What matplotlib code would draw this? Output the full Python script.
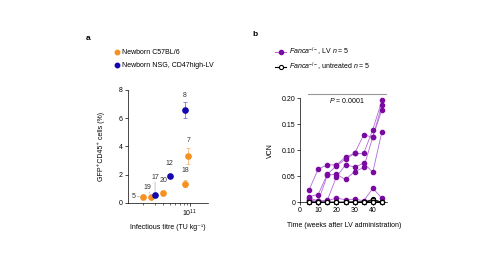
import matplotlib
matplotlib.use("Agg")
import matplotlib.pyplot as plt
from matplotlib.lines import Line2D

plt.rcParams['font.family'] = ['Liberation Sans', 'DejaVu Sans']
plt.rcParams['mathtext.fontset'] = 'custom'
plt.rcParams['mathtext.rm'] = 'Liberation Sans'
plt.rcParams['mathtext.it'] = 'Liberation Sans:italic'
plt.rcParams['font.size'] = 5
plt.rcParams['axes.linewidth'] = 0.5

# ---- panel a data ----
c57_titre = [2.0e10, 2.6e10, 4.0e10, 8.5e10, 9.5e10]
c57_gfp = [0.42, 0.42, 0.70, 1.33, 3.33]
c57_err = [0.05, 0.06, 0.10, 0.25, 0.57]
c57_n = ['5', '19', '20', '18', '7']

nsg_titre = [3.0e10, 5.0e10, 8.4e10]
nsg_gfp = [0.55, 1.91, 6.55]
nsg_err = [0.05, 0.12, 0.57]
nsg_n = ['17', '12', '8']

# ---- panel b data ----
weeks = [5, 10, 15, 20, 25, 30, 35, 40, 45]
vcn_lv = [
    [0.024, 0.064, 0.072, 0.072, 0.087, 0.094, 0.094, 0.140, 0.196],
    [0.011, 0.015, 0.054, 0.070, 0.083, 0.094, 0.130, 0.125, 0.188],
    [0.008, 0.003, 0.004, 0.049, 0.072, 0.068, 0.075, 0.058, 0.136],
    [0.004, 0.002, 0.052, 0.054, 0.044, 0.059, 0.067, 0.126, 0.178],
    [0.002, 0.001, 0.003, 0.008, 0.005, 0.006, 0.003, 0.027, 0.008],
]
vcn_untreated = [
    [0.000, 0.000, 0.000, 0.000, 0.000, 0.000, 0.000, 0.006, 0.000],
    [0.000, 0.000, 0.000, 0.000, 0.000, 0.001, 0.000, 0.004, 0.000],
    [0.000, 0.000, 0.000, 0.000, 0.000, 0.000, 0.001, 0.000, 0.000],
    [0.000, 0.000, 0.000, 0.000, 0.000, 0.000, 0.000, 0.001, 0.000],
    [0.000, 0.000, 0.000, 0.000, 0.000, 0.000, 0.000, 0.000, 0.000],
]

orange = '#f7901e'
blue = '#1308b0'
purple = '#7a0aa0'
purple_line = '#b46ad6'
fs = 5.0

fig = plt.figure(figsize=(4.85, 2.64), dpi=100)
W, H = 485, 264


def px_axes(x0, x1, y0, y1):
    return fig.add_axes([x0 / W, 1 - y1 / H, (x1 - x0) / W, (y1 - y0) / H])


# ---------------- panel a ----------------
ax = px_axes(127.7, 208, 90, 202.7)
ax.set_xscale('log')
ax.errorbar(c57_titre, c57_gfp, yerr=c57_err, fmt='o', color=orange, ms=3.8,
            elinewidth=0.6, capsize=1.6, capthick=0.6, ecolor='#f9b77a', clip_on=False)
ax.errorbar(nsg_titre, nsg_gfp, yerr=nsg_err, fmt='o', color=blue, ms=3.8,
            elinewidth=0.6, capsize=1.6, capthick=0.6, ecolor='#7a78d8', clip_on=False)

offsets = {'5': (-10, 0), '19': (-3, 9), '20': (0, 12), '18': (0, 13), '7': (0, 15),
           '17': (0, 17), '12': (0, 12), '8': (0, 15)}
for xs, ys, ns in [(c57_titre, c57_gfp, c57_n), (nsg_titre, nsg_gfp, nsg_n)]:
    for x, y, n in zip(xs, ys, ns):
        dx, dy = offsets[n]
        ax.annotate(n, (x, y), xytext=(dx, dy), textcoords='offset pixels',
                    ha='center', va='center', fontsize=fs, color='#333333')
# leader lines for crowded labels
ax.annotate('', (c57_titre[0], c57_gfp[0]), xytext=(-6.5, 0), textcoords='offset pixels',
            arrowprops=dict(arrowstyle='-', lw=0.4, color='#999999', shrinkA=0, shrinkB=2.5))
ax.annotate('', (nsg_titre[0], nsg_gfp[0]), xytext=(0, 13), textcoords='offset pixels',
            arrowprops=dict(arrowstyle='-', lw=0.4, color='#999999', shrinkA=0, shrinkB=2.5))
ax.annotate('', (c57_titre[1], c57_gfp[1]), xytext=(-1.5, 5), textcoords='offset pixels',
            arrowprops=dict(arrowstyle='-', lw=0.4, color='#999999', shrinkA=0, shrinkB=2.5))

ax.set_xlim(1.17e10, 1.86e11)
ax.set_ylim(0, 8)
ax.set_yticks([0, 2, 4, 6, 8])
ax.set_xticks([1e11])
ax.spines[['top', 'right']].set_visible(False)
ax.tick_params(length=2, width=0.5, pad=1.5, labelsize=fs)
ax.tick_params(which='minor', length=1.5, width=0.4)
ax.set_ylabel('GFP⁺CD45⁺ cells (%)', fontsize=fs, labelpad=10)
ax.set_xlabel('Infectious titre (TU kg⁻¹)', fontsize=fs, labelpad=4)

ha = [Line2D([], [], ls='none', marker='o', color=orange, ms=3.2),
      Line2D([], [], ls='none', marker='o', color=blue, ms=3.2)]
fig.legend(ha, ['Newborn C57BL/6', 'Newborn NSG, CD47high-LV'],
           loc='upper left', bbox_to_anchor=(110 / W, 1 - 46 / H), frameon=False,
           handlelength=1.0, handletextpad=0.3, labelspacing=0.85, borderpad=0,
           fontsize=fs)
fig.text(86 / W, 1 - 39 / H, 'a', fontsize=6, fontweight='bold', va='center')

# ---------------- panel b ----------------
bx = px_axes(300, 387.4, 98.3, 202.3)
for vals in vcn_lv:
    bx.plot(weeks, vals, '-', color=purple_line, lw=0.6, zorder=2, clip_on=False)
    bx.plot(weeks, vals, 'o', color=purple, ms=3, zorder=3, clip_on=False)
for vals in vcn_untreated:
    bx.plot(weeks, vals, '-o', color='black', lw=0.6, ms=3, mfc='white', mec='black',
            mew=0.8, zorder=4, clip_on=False)

bx.plot([4.5, 47], [0.208, 0.208], color='#999999', lw=0.8, clip_on=False)
bx.text(26, 0.196, '$\\it{P}$ = 0.0001', ha='center', va='center', fontsize=fs)

bx.set_xlim(0, 48)
bx.set_ylim(0, 0.2)
bx.set_xticks([0, 10, 20, 30, 40])
bx.set_yticks([0, 0.05, 0.10, 0.15, 0.20])
bx.set_yticklabels(['0', '0.05', '0.10', '0.15', '0.20'])
bx.spines[['top', 'right']].set_visible(False)
bx.tick_params(length=2, width=0.5, pad=1.5, labelsize=fs)
bx.set_ylabel('VCN', fontsize=fs, labelpad=5)
bx.set_xlabel('Time (weeks after LV administration)', fontsize=fs, labelpad=6)

hb = [Line2D([], [], color=purple_line, lw=0.8, marker='o', mfc=purple, mec=purple, ms=3),
      Line2D([], [], color='black', lw=0.8, marker='o', mfc='white', mec='black', ms=3, mew=0.8)]
fig.legend(hb, ['$\\it{Fanca}^{-/-}$, LV $\\it{n}$ = 5',
                '$\\it{Fanca}^{-/-}$, untreated $\\it{n}$ = 5'],
           loc='upper left', bbox_to_anchor=(272 / W, 1 - 42 / H), frameon=False,
           handlelength=1.5, handletextpad=0.4, labelspacing=0.45, borderpad=0,
           fontsize=fs)
fig.text(252 / W, 1 - 35 / H, 'b', fontsize=6, fontweight='bold', va='center')

fig.savefig('out.png', dpi=100)
